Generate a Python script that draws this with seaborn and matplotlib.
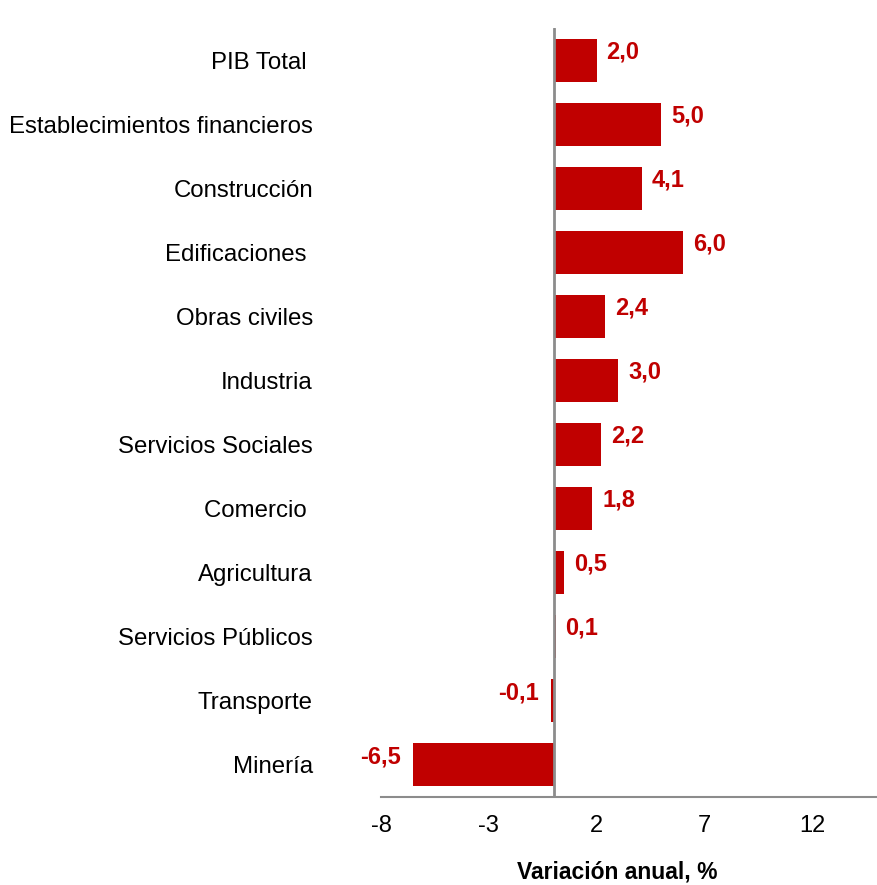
import matplotlib
matplotlib.use("Agg")
import matplotlib.pyplot as plt
import seaborn as sns
import pandas as pd

categories = ["PIB Total ", "Establecimientos financieros", "Construcción", "Edificaciones ",
              "Obras civiles", "Industria", "Servicios Sociales", "Comercio ",
              "Agricultura", "Servicios Públicos", "Transporte", "Minería"]
values = [2.0, 5.0, 4.1, 6.0, 2.4, 3.0, 2.2, 1.8, 0.5, 0.1, -0.1, -6.5]
xticks = [-8, -3, 2, 7, 12]

sns.set_theme(style="white")
plt.rcParams['font.family'] = ['Liberation Sans', 'DejaVu Sans']

df = pd.DataFrame({"cat": categories, "val": values})

fig = plt.figure(figsize=(8.77, 8.85), dpi=100)
ax = fig.add_axes([381/877, 88/885, 1 - 381/877, (797-28)/885])
red = "#C00000"
sns.barplot(data=df, y="cat", x="val", orient="h", color=red, saturation=1,
            width=0.67, ax=ax)
for p in ax.patches:
    p.set_edgecolor("none")

ax.set_xlim(-8, 15)
ax.set_ylim(11.5, -0.5)
ax.set_xticks(xticks)
ax.set_xticklabels([str(t) for t in xticks], fontsize=17, color="black")
ax.tick_params(axis="x", length=0, pad=13)
ax.tick_params(axis="y", length=0, pad=49)
for lbl in ax.get_yticklabels():
    lbl.set_fontsize(17.3)
    lbl.set_color("black")

ax.axvline(0, color="#8c8c8c", lw=2, zorder=3)
for s in ["top", "right", "left"]:
    ax.spines[s].set_visible(False)
ax.spines["bottom"].set_color("#8c8c8c")
ax.spines["bottom"].set_linewidth(1.5)

for i, v in enumerate(values):
    txt = f"{v:.1f}".replace(".", ",")
    if v >= 0:
        ax.annotate(txt, (v, i), xytext=(7, 6), textcoords="offset points",
                    ha="left", va="center", color=red, fontsize=17, fontweight="bold")
    else:
        ax.annotate(txt, (v, i), xytext=(-9, 6), textcoords="offset points",
                    ha="right", va="center", color=red, fontsize=17, fontweight="bold")

ax.set_ylabel("")
ax.set_xlabel("Variación anual, %", fontsize=16.5, fontweight="bold", color="black")
ax.xaxis.set_label_coords((617-381)/(877-381), -0.082)

fig.savefig("out.png", dpi=100)
